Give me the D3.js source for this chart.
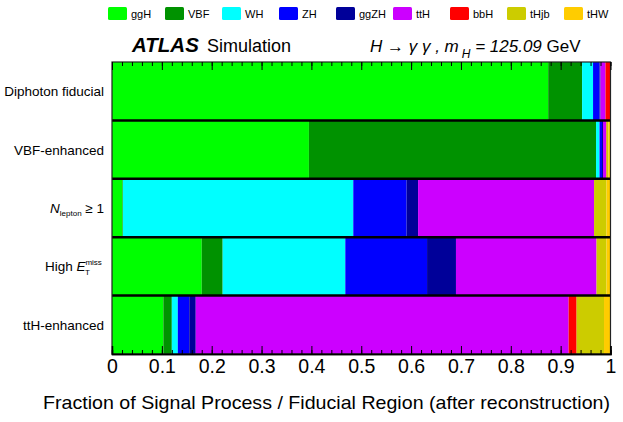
<!DOCTYPE html>
<html>
<head>
<meta charset="utf-8">
<script src="https://cdn.jsdelivr.net/npm/d3@7"></script>
<style>
  body { margin: 0; background: #fff; }
  text { font-family: "Liberation Sans", Arial, Helvetica, sans-serif; fill: #000; }
</style>
</head>
<body>
<div id="chart"></div>
<script>
// processes and their colours (ROOT palette)
const processes = ["ggH", "VBF", "WH", "ZH", "ggZH", "ttH", "bbH", "tHjb", "tHW"];
const colors = ["#00ff00", "#009200", "#00ffff", "#0000ff", "#000099", "#cc00ff", "#ff0000", "#cccc00", "#ffcc00"];

// fiducial regions, top to bottom
const regions = ["Diphoton fiducial", "VBF-enhanced", "Nlep", "HighMET", "ttH-enhanced"];

// fraction of each process per region
const ggH  = [0.875, 0.395, 0.021, 0.180, 0.103];
const VBF  = [0.068, 0.576, 0.001, 0.042, 0.017];
const WH   = [0.022, 0.007, 0.462, 0.246, 0.012];
const ZH   = [0.013, 0.005, 0.107, 0.164, 0.023];
const ggZH = [0.002, 0.002, 0.023, 0.058, 0.013];
const ttH  = [0.010, 0.006, 0.353, 0.282, 0.748];
const bbH  = [0.009, 0.001, 0.000, 0.000, 0.016];
const tHjb = [0.001, 0.004, 0.025, 0.020, 0.055];
const tHW  = [0.000, 0.003, 0.008, 0.008, 0.013];

const xTicks = [0, 0.1, 0.2, 0.3, 0.4, 0.5, 0.6, 0.7, 0.8, 0.9, 1];

const series = { ggH, VBF, WH, ZH, ggZH, ttH, bbH, tHjb, tHW };
const rows = regions.map((r, i) => {
    const o = { region: r };
    processes.forEach(p => o[p] = series[p][i]);
    return o;
});

const W = 623, H = 422;
const svg = d3.select("#chart").append("svg").attr("width", W).attr("height", H);

const x = d3.scaleLinear().domain([0, 1]).range([112, 610.5]);
const y = d3.scaleBand().domain(regions).range([62, 354]).padding(0);

const stack = d3.stack().keys(processes);
const layers = stack(rows);

svg.append("g").selectAll("g")
    .data(layers)
    .enter()
    .append("g")
    .attr("fill", (d, i) => colors[i])
    .selectAll("rect")
    .data(d => d)
    .enter()
    .append("rect")
    .attr("x", d => x(d[0]))
    .attr("width", d => Math.max(0, x(d[1]) - x(d[0])))
    .attr("y", d => y(d.data.region))
    .attr("height", y.bandwidth());

// row separators
svg.append("g").selectAll("line")
    .data(regions.slice(1))
    .enter()
    .append("line")
    .attr("x1", x(0)).attr("x2", x(1))
    .attr("y1", d => y(d)).attr("y2", d => y(d))
    .attr("stroke", "#000").attr("stroke-width", 2.5);

// frame
svg.append("rect")
    .attr("x", x(0)).attr("y", 62)
    .attr("width", x(1) - x(0)).attr("height", 354 - 62)
    .attr("fill", "none").attr("stroke", "#222").attr("stroke-width", 1.2);

// ticks
const minor = d3.range(0, 51).map(i => i / 50);
const bottomAxis = svg.append("g").attr("transform", "translate(0,354)");
bottomAxis.append("g").call(d3.axisBottom(x).tickValues(minor).tickSize(-4).tickFormat(""));
bottomAxis.append("g").call(d3.axisBottom(x).tickValues(xTicks).tickSize(-8).tickPadding(5).tickFormat(d3.format("")));
bottomAxis.selectAll(".domain").attr("stroke", "#000").attr("stroke-width", 1.5);
bottomAxis.selectAll("line").attr("stroke", "#000");
bottomAxis.selectAll("text").style("font-size", "19.5px").attr("font-family", "Liberation Sans, Arial, sans-serif");

const topAxis = svg.append("g").attr("transform", "translate(0,62)");
topAxis.append("g").call(d3.axisTop(x).tickValues(minor).tickSize(-4).tickFormat(""));
topAxis.append("g").call(d3.axisTop(x).tickValues(xTicks).tickSize(-8).tickFormat(""));
topAxis.selectAll(".domain").remove();
topAxis.selectAll("line").attr("stroke", "#000");

// x axis title
svg.append("text")
    .attr("x", 610).attr("y", 409)
    .attr("text-anchor", "end")
    .attr("textLength", 567)
    .attr("lengthAdjust", "spacingAndGlyphs")
    .style("font-size", "19px")
    .text("Fraction of Signal Process / Fiducial Region (after reconstruction)");

// y labels
const ylab = svg.append("g").style("font-size", "13.5px");
const cy = r => y(r) + y.bandwidth() / 2 + 5;
ylab.append("text").attr("x", 104).attr("y", cy("Diphoton fiducial")).attr("text-anchor", "end").text("Diphoton fiducial");
ylab.append("text").attr("x", 104).attr("y", cy("VBF-enhanced")).attr("text-anchor", "end").text("VBF-enhanced");
ylab.append("text").attr("x", 104).attr("y", cy("ttH-enhanced")).attr("text-anchor", "end").text("ttH-enhanced");

const nl = ylab.append("text").attr("x", 104).attr("y", cy("Nlep")).attr("text-anchor", "end");
nl.append("tspan").style("font-style", "italic").text("N");
nl.append("tspan").attr("dy", 3).style("font-size", "8px").text("lepton");
nl.append("tspan").attr("dy", -3).text(" \u2265 1");

const hm = ylab.append("text").attr("x", 104).attr("y", cy("HighMET")).attr("text-anchor", "end");
hm.append("tspan").text("High ");
hm.append("tspan").style("font-style", "italic").text("E");
hm.append("tspan").attr("dy", -6).style("font-size", "8px").text("miss");
hm.append("tspan").attr("dx", -17).attr("dy", 10).style("font-size", "8px").text("T");
hm.append("tspan").attr("dx", 12).attr("dy", -4).style("font-size", "8px").text("\u00a0");

// legend
const leg = svg.append("g").selectAll("g")
    .data(processes)
    .enter()
    .append("g")
    .attr("transform", (d, i) => `translate(${108 + i * 57},7)`);
leg.append("rect").attr("width", 19).attr("height", 13).attr("rx", 1.5)
    .attr("fill", (d, i) => colors[i]);
leg.append("text").attr("x", 23).attr("y", 11).style("font-size", "11px").text(d => d);

// title
svg.append("text").attr("x", 132).attr("y", 52)
    .style("font-size", "20.5px").style("font-weight", "bold").style("font-style", "italic")
    .text("ATLAS");
svg.append("text").attr("x", 207).attr("y", 52).style("font-size", "18px").text("Simulation");

const t2 = svg.append("text").attr("x", 370).attr("y", 52).style("font-size", "17px");
t2.append("tspan").style("font-style", "italic").text("H \u2192 \u03b3 \u03b3 ,  m");
t2.append("tspan").attr("dy", 6).attr("dx", 3).style("font-size", "12px").style("font-style", "italic").text("H");
t2.append("tspan").attr("dy", -6).style("font-style", "italic").text(" = 125.09");
t2.append("tspan").text(" GeV");
</script>
</body>
</html>
